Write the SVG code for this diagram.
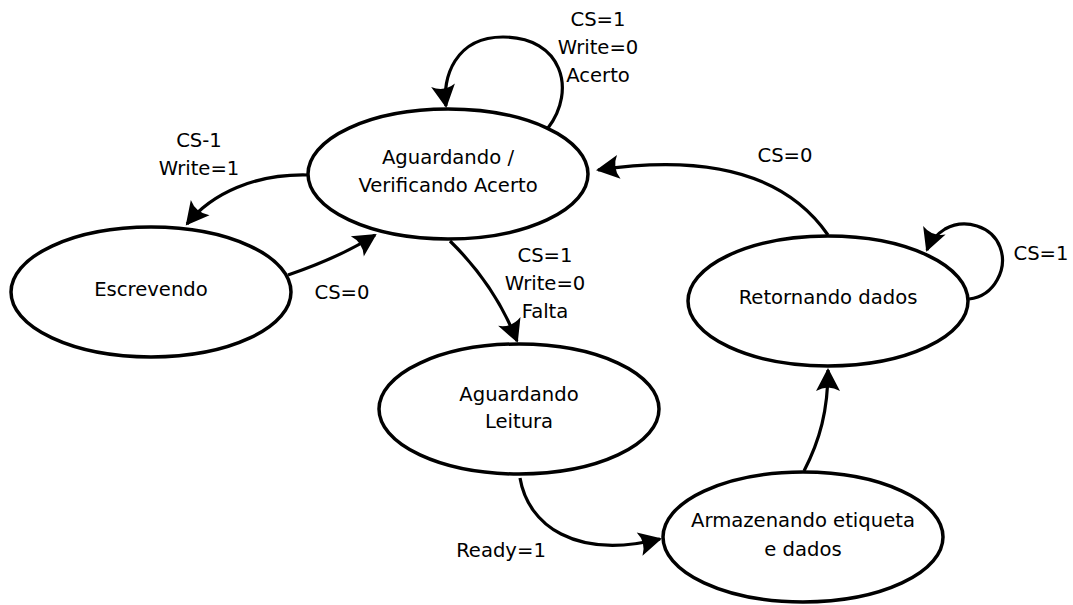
<svg xmlns="http://www.w3.org/2000/svg" width="1073" height="605" viewBox="0 0 1073 605">
<style>
.node ellipse{fill:#fff;stroke:#000;stroke-width:3.5}
text{font-family:"DejaVu Sans","Noto Sans",sans-serif;font-size:19.6px;fill:#000;text-anchor:middle}
.edge{fill:none;stroke:#000;stroke-width:3.2;marker-end:url(#ah)}
</style>
<defs>
<marker id="ah" markerUnits="userSpaceOnUse" orient="auto" markerWidth="40" markerHeight="40" refX="0" refY="0" overflow="visible">
<path d="M 2 0 L -21 -12 Q -14 0 -21 12 Z" fill="#000"/>
</marker>
</defs>
<rect width="1073" height="605" fill="#fff"/>
<g id="connectors">
<path class="edge" d="M 548 128 C 577 90, 562 37, 503 37 C 455 37, 442 78, 446 106"/>
<path class="edge" d="M 307 175 C 255 174, 212 193, 187 224"/>
<path class="edge" d="M 288 275 C 320 264, 350 251, 375 235"/>
<path class="edge" d="M 450 241 Q 495 285, 517 341"/>
<path class="edge" d="M 520 478 C 528 525, 575 560, 660 539"/>
<path class="edge" d="M 804 471 C 820 440, 828 410, 828 370"/>
<path class="edge" d="M 828 235 C 790 180, 720 152, 598 170"/>
<path class="edge" d="M 969 299 C 995 296, 1008 268, 1000 247 C 992 226, 965 218, 945 229 C 937 234, 930 242, 927 250"/>
<text x="598" y="26">CS=1</text>
<text x="598" y="54">Write=0</text>
<text x="598" y="82">Acerto</text>
<text x="199" y="147">CS-1</text>
<text x="199" y="175">Write=1</text>
<text x="342" y="299">CS=0</text>
<text x="545" y="262">CS=1</text>
<text x="545" y="290">Write=0</text>
<text x="545" y="318">Falta</text>
<text x="785" y="162">CS=0</text>
<text x="1041" y="260">CS=1</text>
<text x="501" y="557">Ready=1</text>
</g>
<g id="n-aguardando" class="node">
<ellipse cx="448" cy="174" rx="140" ry="65"/>
<text x="448" y="164">Aguardando /</text>
<text x="448" y="192">Verificando Acerto</text>
</g>
<g id="n-escrevendo" class="node">
<ellipse cx="151" cy="292" rx="140" ry="65"/>
<text x="151" y="296">Escrevendo</text>
</g>
<g id="n-leitura" class="node">
<ellipse cx="519" cy="409" rx="140" ry="65"/>
<text x="519" y="401">Aguardando</text>
<text x="519" y="428">Leitura</text>
</g>
<g id="n-retornando" class="node">
<ellipse cx="828" cy="301" rx="140" ry="65"/>
<text x="828" y="304">Retornando dados</text>
</g>
<g id="n-armazenando" class="node">
<ellipse cx="803" cy="537" rx="140" ry="65"/>
<text x="803" y="527">Armazenando etiqueta</text>
<text x="803" y="556">e dados</text>
</g>
</svg>
